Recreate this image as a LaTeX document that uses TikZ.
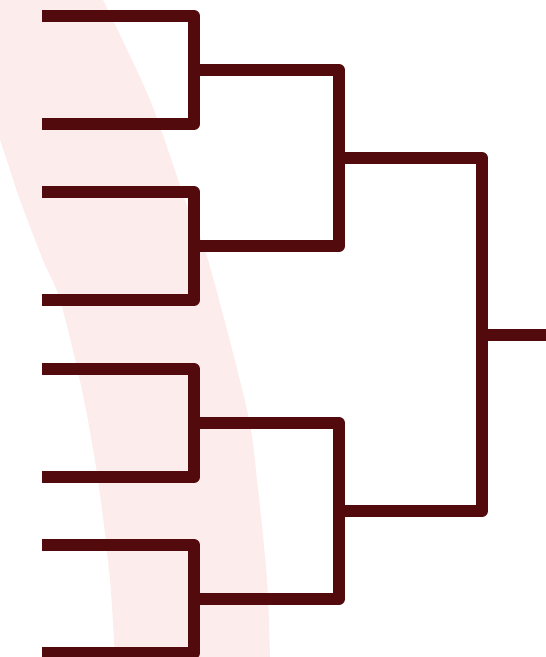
\documentclass[tikz,border=0pt]{standalone}
\usepackage{tikz}
\definecolor{bracketRed}{HTML}{520A0C}
\definecolor{bandPink}{HTML}{FDECEC}
\tikzset{bracket/.style={draw=bracketRed,line width=12pt,line join=round}}

\begin{document}
\begin{tikzpicture}[x=1pt,y=-1pt]
  \useasboundingbox (0,0) rectangle (546,657);
  \clip (0,0) rectangle (546,657);
  % background band
  \fill[bandPink] plot[smooth] coordinates {(103,0) (150,100) (185,200) (208,260) (247,410) (257,480) (267,580) (270,660)}
    -- plot[smooth] coordinates {(115,660) (110,580) (98,480) (82,390) (60,300) (43,260) (20,200) (0,140) (-50,0)} -- cycle;
  % entries
  \coordinate (e1) at (42,16);
  \coordinate (e2) at (42,124);
  \coordinate (e3) at (42,192);
  \coordinate (e4) at (42,300);
  \coordinate (e5) at (42,369);
  \coordinate (e6) at (42,477);
  \coordinate (e7) at (42,545);
  \coordinate (e8) at (42,653);
  % rounds
  \coordinate (q1) at (194,70);
  \coordinate (q2) at (194,246);
  \coordinate (q3) at (194,423);
  \coordinate (q4) at (194,599);
  \coordinate (s1) at (339,158);
  \coordinate (s2) at (339,511);
  \coordinate (f) at (482,334.5);
  \coordinate (champ) at (550,334.5);
  \draw[bracket] (e1) -| (q1) |- (e2);
  \draw[bracket] (e3) -| (q2) |- (e4);
  \draw[bracket] (e5) -| (q3) |- (e6);
  \draw[bracket] (e7) -| (q4) |- (e8);
  \draw[bracket] (q1) -| (s1) |- (q2);
  \draw[bracket] (q3) -| (s2) |- (q4);
  \draw[bracket] (s1) -| (f) |- (s2);
  \draw[bracket] (f) -- (champ);
\end{tikzpicture}
\end{document}
